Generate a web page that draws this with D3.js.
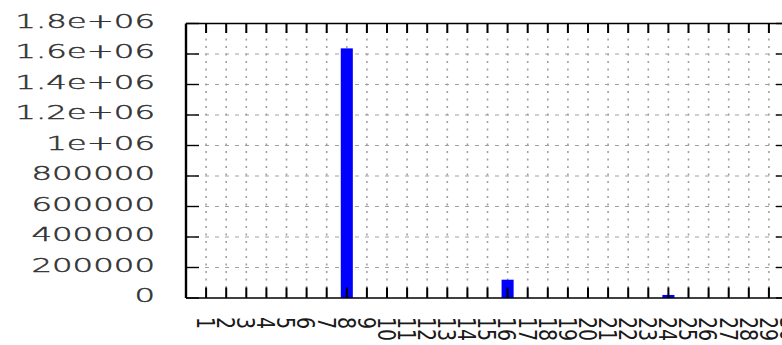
<!DOCTYPE html>
<html>
<head>
<meta charset="utf-8">
<script src="https://cdn.jsdelivr.net/npm/d3@7"></script>
<style>
  html, body { margin: 0; padding: 0; background: #fff; }
  svg { display: block; font-family: "DejaVu Sans", sans-serif; }
  .ylab { font-family: "DejaVu Sans ExtraLight", "DejaVu Sans Light", "DejaVu Sans", sans-serif; font-weight: 200; }
</style>
</head>
<body>
<svg id="chart" width="782" height="345"></svg>
<script>
// category labels along the x axis
const categories = ["1","2","3","4","5","6","7","8","9","10","11","12","13","14","15",
                    "16","17","18","19","20","21","22","23","24","25","26","27","28","29","30"];
// one value per category
const values = [0,0,0,0,0,0,0,1637000,0,0,0,0,0,0,0,
                120000,0,0,0,0,0,0,0,20000,0,0,0,0,0,0];
// y tick values and labels
const yTicks = [0,200000,400000,600000,800000,1000000,1200000,1400000,1600000,1800000];
const yTickLabels = ["0","200000","400000","600000","800000","1e+06","1.2e+06","1.4e+06","1.6e+06","1.8e+06"];

const svg = d3.select("#chart");
const plotL = 186, plotR = 789, plotT = 23.5, plotB = 298;

const x = d3.scaleLinear().domain([0, 30]).range([plotL, plotR]);
const y = d3.scaleLinear().domain([0, 1800000]).range([plotB, plotT]);
const xPos = (d, i) => x(i + 1);

const grid = "#a0a0a0";

// vertical grid
svg.append("g").selectAll("line").data(categories).join("line")
  .attr("x1", xPos).attr("x2", xPos)
  .attr("y1", plotT).attr("y2", plotB)
  .attr("stroke", grid).attr("stroke-width", 1.6)
  .attr("stroke-dasharray", "2,5.5");

// horizontal grid
svg.append("g").selectAll("line").data(yTicks.slice(1, -1)).join("line")
  .attr("x1", plotL).attr("x2", plotR)
  .attr("y1", d => y(d)).attr("y2", d => y(d))
  .attr("stroke", grid).attr("stroke-width", 1)
  .attr("stroke-dasharray", "4,6").attr("stroke-dashoffset", 1);

// bars
const bw = 0.6;
svg.append("g").selectAll("rect").data(values).join("rect")
  .attr("x", (d, i) => x(i + 1 - bw / 2))
  .attr("width", x(bw) - x(0))
  .attr("y", d => y(d))
  .attr("height", d => y(0) - y(d))
  .attr("fill", "#0000ff");

// tick marks on all four sides
const ticks = svg.append("g").attr("stroke", "#000");
ticks.selectAll("line.xb").data(categories).join("line").attr("class", "xb")
  .attr("x1", xPos).attr("x2", xPos).attr("y1", plotB).attr("y2", plotB - 10.5)
  .attr("stroke-width", 2);
ticks.selectAll("line.xt").data(categories).join("line").attr("class", "xt")
  .attr("x1", xPos).attr("x2", xPos).attr("y1", plotT).attr("y2", plotT + 9.5)
  .attr("stroke-width", 2);
ticks.selectAll("line.yl").data(yTicks).join("line").attr("class", "yl")
  .attr("x1", plotL).attr("x2", plotL + 13).attr("y1", d => y(d)).attr("y2", d => y(d))
  .attr("stroke-width", 1.4);
ticks.selectAll("line.yr").data(yTicks).join("line").attr("class", "yr")
  .attr("x1", plotR).attr("x2", plotR - 13).attr("y1", d => y(d)).attr("y2", d => y(d))
  .attr("stroke-width", 1.4);

// frame
svg.append("line").attr("x1", plotL).attr("x2", plotL).attr("y1", plotT).attr("y2", plotB)
  .attr("stroke", "#000").attr("stroke-width", 2.4);
svg.append("line").attr("x1", plotR).attr("x2", plotR).attr("y1", plotT).attr("y2", plotB)
  .attr("stroke", "#000").attr("stroke-width", 2.4);
svg.append("line").attr("x1", plotL).attr("x2", plotR).attr("y1", plotT).attr("y2", plotT)
  .attr("stroke", "#000").attr("stroke-width", 1.4);
svg.append("line").attr("x1", plotL).attr("x2", plotR).attr("y1", plotB).attr("y2", plotB)
  .attr("stroke", "#000").attr("stroke-width", 1.4);

// y tick labels (horizontally widened type)
svg.append("g").selectAll("text").data(yTicks).join("text")
  .attr("class", "ylab")
  .attr("transform", d => `translate(155,${y(d) - 3}) scale(1.66,1)`)
  .attr("text-anchor", "end").attr("dy", "0.36em")
  .attr("font-size", 19.5).attr("fill", "#333")
  .attr("stroke", "#333").attr("stroke-width", 0.45)
  .text((d, i) => yTickLabels[i]);

// x tick labels, turned to read downward
svg.append("g").selectAll("text").data(categories).join("text")
  .attr("transform", (d, i) => `translate(${x(i + 1)},317) scale(1.32,1) rotate(90)`)
  .attr("text-anchor", "start").attr("dy", "0.365em")
  .attr("font-size", 19).attr("fill", "#1a1a1a")
  .text(d => d);
</script>
</body>
</html>
